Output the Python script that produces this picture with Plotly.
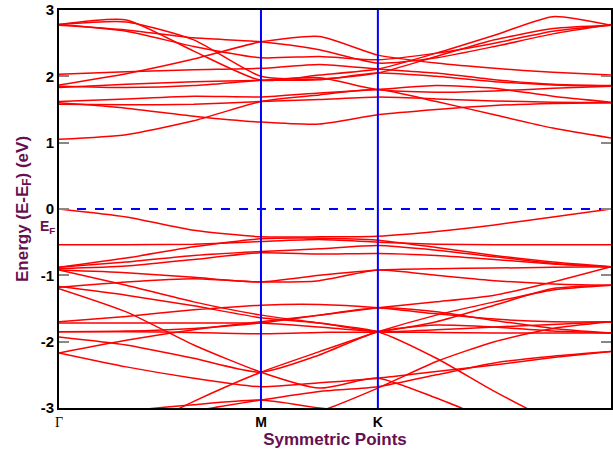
import plotly.graph_objects as go

# k-path nodes (hexagonal path, Γ-M-K-Γ)
k_nodes = [0.0, 0.192, 0.385, 0.577, 0.744, 0.911, 1.078, 1.244, 1.411, 1.577]
sym_k = [0.0, 0.577, 0.911, 1.577]
sym_labels = ["Γ", "M", "K", "Γ"]

# conduction bands (eV) at k_nodes
cb1 = [1.05, 1.12, 1.33, 1.62, 1.72, 1.80, 1.62, 1.42, 1.22, 1.07]
cb2 = [1.60, 1.52, 1.40, 1.31, 1.28, 1.42, 1.50, 1.56, 1.59, 1.60]
cb3 = [1.58, 1.57, 1.58, 1.62, 1.65, 1.69, 1.66, 1.63, 1.61, 1.60]
cb4 = [1.62, 1.66, 1.70, 1.69, 1.75, 1.80, 1.86, 1.82, 1.70, 1.61]
cb5 = [1.83, 1.88, 1.92, 1.94, 1.95, 2.05, 2.00, 1.92, 1.87, 1.85]
cb6 = [1.85, 1.83, 1.86, 1.94, 1.98, 1.80, 1.76, 1.78, 1.82, 1.85]
cb7 = [1.87, 2.04, 2.26, 2.52, 2.60, 2.32, 2.20, 2.12, 2.06, 2.02]
cb8 = [2.03, 2.07, 2.10, 2.12, 2.18, 2.11, 2.05, 1.95, 1.88, 1.86]
cb9 = [2.78, 2.85, 2.38, 1.94, 2.02, 2.11, 2.35, 2.62, 2.90, 2.77]
cb10 = [2.78, 2.82, 2.55, 2.00, 1.96, 2.05, 2.30, 2.55, 2.72, 2.77]
cb11 = [2.78, 2.68, 2.45, 2.28, 2.30, 2.25, 2.35, 2.50, 2.68, 2.77]
cb12 = [2.77, 2.70, 2.58, 2.52, 2.40, 2.20, 2.28, 2.45, 2.64, 2.78]

# valence bands (eV) at k_nodes
vb1 = [0.00, -0.12, -0.32, -0.42, -0.42, -0.41, -0.34, -0.24, -0.12, 0.00]
vb2 = [-0.54, -0.54, -0.53, -0.49, -0.46, -0.50, -0.53, -0.54, -0.54, -0.54]
vb3 = [-0.88, -0.74, -0.57, -0.45, -0.44, -0.47, -0.58, -0.70, -0.80, -0.87]
vb4 = [-0.88, -0.80, -0.70, -0.64, -0.60, -0.55, -0.62, -0.72, -0.82, -0.87]
vb5 = [-0.90, -0.86, -0.76, -0.66, -0.68, -0.67, -0.70, -0.76, -0.83, -0.88]
vb6 = [-0.92, -0.96, -1.03, -1.10, -1.00, -0.92, -0.90, -0.89, -0.88, -0.87]
vb7 = [-1.17, -1.30, -1.46, -1.64, -1.72, -1.85, -1.86, -1.87, -1.87, -1.87]
vb8 = [-1.18, -1.10, -1.05, -1.10, -1.08, -0.92, -1.00, -1.08, -1.13, -1.15]
vb9 = [-0.92, -1.15, -1.40, -1.60, -1.72, -1.85, -2.25, -2.75, -3.20, -3.60]
vb10 = [-1.70, -1.62, -1.52, -1.45, -1.44, -1.49, -1.58, -1.66, -1.70, -1.70]
vb11 = [-1.72, -1.72, -1.72, -1.72, -1.78, -1.85, -1.82, -1.78, -1.74, -1.70]
vb12 = [-1.85, -1.84, -1.80, -1.72, -1.60, -1.49, -1.55, -1.68, -1.80, -1.87]
vb13 = [-1.85, -1.85, -1.86, -1.88, -1.86, -1.85, -1.70, -1.45, -1.20, -1.15]
vb14 = [-1.93, -2.05, -2.25, -2.46, -2.20, -1.85, -1.75, -1.78, -1.84, -1.87]
vb15 = [-2.17, -1.98, -1.82, -1.70, -1.60, -1.49, -1.40, -1.30, -1.10, -0.87]
vb16 = [-2.17, -2.38, -2.55, -2.68, -2.62, -2.55, -2.45, -2.35, -2.24, -2.15]
vb17 = [-3.60, -3.30, -3.05, -2.88, -2.75, -2.68, -2.50, -2.32, -2.22, -2.15]
vb18 = [-1.20, -1.55, -2.05, -2.46, -2.70, -2.55, -2.85, -3.20, -3.50, -3.80]
vb19 = [-3.80, -3.40, -2.90, -2.46, -2.15, -1.85, -1.60, -1.40, -1.22, -1.15]
vb20 = [-3.20, -3.05, -2.95, -2.88, -3.00, -3.10, -3.30, -3.50, -3.70, -3.90]
vb21 = [-3.60, -3.50, -3.35, -3.20, -3.05, -2.70, -2.30, -2.00, -1.80, -1.70]

bands = [cb1, cb2, cb3, cb4, cb5, cb6, cb7, cb8, cb9, cb10, cb11, cb12,
         vb1, vb2, vb3, vb4, vb5, vb6, vb7, vb8, vb9, vb10, vb11, vb12,
         vb13, vb14, vb15, vb16, vb17, vb18, vb19, vb20, vb21]

fig = go.Figure()
for b in bands:
    fig.add_trace(go.Scatter(x=k_nodes, y=b, mode="lines",
                             line=dict(color="#ff0000", width=1.5, shape="spline", smoothing=0.6),
                             showlegend=False, hoverinfo="skip"))

# Fermi level and symmetry lines
fig.add_trace(go.Scatter(x=[sym_k[0], sym_k[-1]], y=[0, 0], mode="lines",
                         line=dict(color="#0000ff", width=2, dash="dash"),
                         showlegend=False, hoverinfo="skip"))
for kk in sym_k[1:3]:
    fig.add_trace(go.Scatter(x=[kk, kk], y=[-3, 3], mode="lines",
                             line=dict(color="#0000ff", width=2),
                             showlegend=False, hoverinfo="skip"))

purple = "#66104f"
ticktext = ['<span style="font-family:Liberation Serif;font-weight:normal">Γ</span>',
            "<b>M</b>", "<b>K</b>",
            '<span style="font-family:Liberation Serif;font-weight:normal">Γ</span>']

fig.update_layout(
    width=613, height=454, autosize=False,
    margin=dict(l=59, r=2, t=10, b=46),
    paper_bgcolor="white", plot_bgcolor="white",
    font=dict(family="Liberation Sans, Arial", size=14, color="black"),
    xaxis=dict(range=[sym_k[0], sym_k[-1]], tickvals=sym_k, ticktext=ticktext,
               showgrid=False, zeroline=False, ticks="", showline=True,
               linecolor="black", linewidth=2, mirror=True, automargin=False,
               tickfont=dict(size=14, color="black"),
               title=dict(text="<b>Symmetric Points</b>", font=dict(size=17, color=purple), standoff=2)),
    yaxis=dict(range=[-3, 3], tickvals=[-3, -2, -1, 0, 1, 2, 3],
               ticktext=["<b>-3</b>", "<b>-2</b>", "<b>-1</b>", "<b>0</b>", "<b>1</b>", "<b>2</b>", "<b>3</b>"],
               showgrid=False, zeroline=False, ticks="inside", ticklen=10, tickwidth=2,
               tickcolor="#888888", showline=True, linecolor="black", linewidth=2, mirror="ticks",
               automargin=False, tickfont=dict(size=15, color="black"),
               title=dict(text="<b>Energy (E-E<sub>F</sub>) (eV)</b>", font=dict(size=17, color=purple), standoff=8)),
)

fig.add_annotation(x=0, y=-0.27, xref="x", yref="y", text="<b>E<sub>F</sub></b>",
                   showarrow=False, xanchor="right", xshift=-2,
                   font=dict(size=14, color=purple, family="Liberation Sans, Arial"))

post = ("document.body.style.margin='0';document.body.style.padding='0';"
        "document.body.style.overflow='hidden';"
        "var gd=document.getElementById('{plot_id}');"
        "Plotly.relayout(gd,{width:613,height:454});")

fig.write_html("out.html", config={"responsive": False, "displayModeBar": False}, post_script=post)
